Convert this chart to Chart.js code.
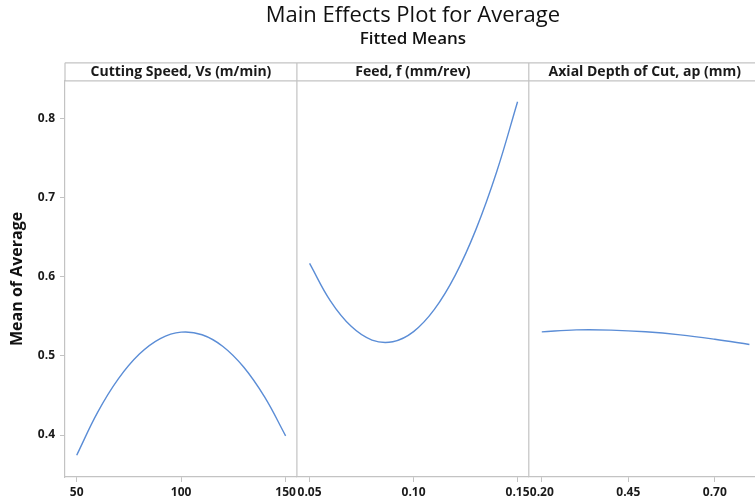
<!DOCTYPE html>
<html>
<head>
<meta charset="utf-8">
<script src="https://cdn.jsdelivr.net/npm/chart.js@4.4.1/dist/chart.umd.min.js"></script>
<style>
html,body{margin:0;padding:0;background:#fff;width:755px;height:500px;overflow:hidden}
#wrap{width:770px;height:500px}
canvas{display:block}
</style>
</head>
<body>
<div id="wrap"><canvas id="c" width="770" height="500"></canvas></div>
<script>
// ---- data ----
const factorNames = ['Cutting Speed, Vs (m/min)', 'Feed, f (mm/rev)', 'Axial Depth of Cut, ap (mm)'];

const speedLevels = [50, 60, 70, 80, 90, 100, 110, 120, 130, 140, 150];
const speedMeans  = [0.3745, 0.4286, 0.4712, 0.5023, 0.5219, 0.5300, 0.5267, 0.5119, 0.4856, 0.4478, 0.3990];

const feedLevels = [0.05, 0.06, 0.07, 0.08, 0.09, 0.10, 0.11, 0.12, 0.13, 0.14, 0.15];
const feedMeans  = [0.6169, 0.5695, 0.5373, 0.5200, 0.5179, 0.5307, 0.5587, 0.6017, 0.6598, 0.7329, 0.8211];

const depthLevels = [0.2, 0.3, 0.4, 0.5, 0.6, 0.7, 0.8];
const depthMeans  = [0.5303, 0.5328, 0.5326, 0.5305, 0.5266, 0.5210, 0.5144];

const speedTicks = [50, 100, 150];
const speedTickLabels = ['50', '100', '150'];
const feedTicks = [0.05, 0.10, 0.15];
const feedTickLabels = ['0.05', '0.10', '0.15'];
const depthTicks = [0.20, 0.45, 0.70];
const depthTickLabels = ['0.20', '0.45', '0.70'];
const yTicks = [0.4, 0.5, 0.6, 0.7, 0.8];
const yTickLabels = ['0.4', '0.5', '0.6', '0.7', '0.8'];

const titleText = 'Main Effects Plot for Average';
const subtitleText = 'Fitted Means';
const yTitleText = 'Mean of Average';

// ---- styles ----
const FONT = "'Open Sans', 'Noto Sans', sans-serif";
const frameColor = '#c3c3c3';
const lineColor = '#5b8dd6';
const textColor = '#1a1a1a';

function pts(xs, ys) { return xs.map((x, i) => ({x: x, y: ys[i]})); }

function xScale(min, max, ticks, labels) {
  return {
    type: 'linear', position: 'bottom', stack: 'panels', stackWeight: 1,
    min: min, max: max,
    afterBuildTicks: s => { s.ticks = ticks.map(v => ({value: v})); },
    ticks: {
      callback: (v, i) => labels[i],
      font: {family: FONT, size: 12, weight: 'bold'}, color: textColor,
      padding: 3, maxRotation: 0, autoSkip: false
    },
    grid: {display: true, drawOnChartArea: false, drawTicks: true, tickLength: 5, color: frameColor},
    border: {display: true, color: frameColor, width: 1.2},
    afterFit: s => { s.height = 23; }
  };
}

const framePlugin = {
  id: 'frame',
  afterDraw(chart) {
    const {ctx, chartArea: a, scales} = chart;
    const stripTop = a.top - 18;
    ctx.save();
    ctx.strokeStyle = frameColor;
    ctx.lineWidth = 1.2;
    ctx.beginPath();
    ctx.moveTo(a.left, stripTop); ctx.lineTo(a.right, stripTop);
    ctx.moveTo(a.left, stripTop); ctx.lineTo(a.left, a.top);
    ctx.moveTo(a.left, a.top); ctx.lineTo(a.right, a.top);
    ctx.moveTo(a.right, stripTop); ctx.lineTo(a.right, a.bottom);
    [scales.x2.left, scales.x3.left].forEach(x => {
      ctx.moveTo(x, stripTop); ctx.lineTo(x, a.bottom);
    });
    ctx.stroke();
    ctx.fillStyle = textColor;
    ctx.font = "bold 14px " + FONT;
    ctx.textAlign = 'center';
    ctx.textBaseline = 'middle';
    ['x1', 'x2', 'x3'].forEach((id, i) => {
      const s = scales[id];
      ctx.fillText(factorNames[i], (s.left + s.right) / 2, stripTop + 9.5);
    });
    ctx.restore();
  }
};

const ds = (xs, ys, axis) => ({
  data: pts(xs, ys), xAxisID: axis, yAxisID: 'y',
  showLine: true, borderColor: lineColor, borderWidth: 1.4,
  pointRadius: 0, tension: 0.4, fill: false
});

new Chart(document.getElementById('c'), {
  type: 'scatter',
  data: {
    datasets: [
      ds(speedLevels, speedMeans, 'x1'),
      ds(feedLevels, feedMeans, 'x2'),
      ds(depthLevels, depthMeans, 'x3')
    ]
  },
  options: {
    responsive: false, animation: false, devicePixelRatio: 1,
    layout: {padding: {left: 0, right: 8, top: 0, bottom: 0}},
    scales: {
      x1: xScale(44.4, 155.4, speedTicks, speedTickLabels),
      x2: xScale(0.0439, 0.1554, feedTicks, feedTickLabels),
      x3: xScale(0.1625, 0.8326, depthTicks, depthTickLabels),
      y: {
        type: 'linear', position: 'left', min: 0.347, max: 0.8475,
        afterBuildTicks: s => { s.ticks = yTicks.map(v => ({value: v})); },
        ticks: {
          callback: (v, i) => yTickLabels[i],
          font: {family: FONT, size: 12, weight: 'bold'}, color: textColor, padding: 5
        },
        grid: {display: true, drawOnChartArea: false, drawTicks: true, tickLength: 5, color: frameColor},
        border: {display: true, color: frameColor, width: 1.2},
        title: {
          display: true, text: yTitleText, color: '#111',
          font: {family: FONT, size: 16, weight: 'bold'}, padding: {top: 8, bottom: 0}
        },
        afterFit: s => { s.width = 65; }
      }
    },
    plugins: {
      legend: {display: false},
      tooltip: {enabled: false},
      title: {
        display: true, text: titleText, fullSize: false, color: '#111',
        font: {family: FONT, size: 22, weight: '500'}, padding: {top: 3, bottom: 0}
      },
      subtitle: {
        display: true, text: subtitleText, fullSize: false, color: '#111',
        font: {family: FONT, size: 17, weight: '600'}, padding: {top: 0, bottom: 31}
      }
    }
  },
  plugins: [framePlugin]
});
</script>
</body>
</html>
